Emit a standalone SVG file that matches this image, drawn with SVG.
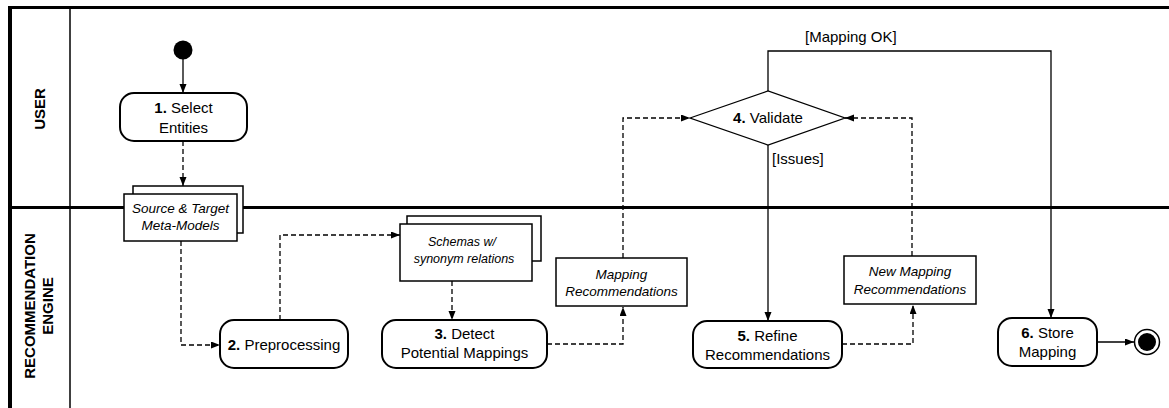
<svg xmlns="http://www.w3.org/2000/svg" width="1169" height="408" viewBox="0 0 1169 408">
  <style>
    .frame { fill: none; stroke: #000; }
    .action { fill: #fff; stroke: #000; stroke-width: 2; }
    .doc { fill: #fff; stroke: #000; stroke-width: 1.5; }
    .flow { fill: none; stroke: #000; stroke-width: 1.3; }
    .obj { fill: none; stroke: #000; stroke-width: 1.3; stroke-dasharray: 5 3; }
    .t { font-family: "Liberation Sans", Arial, sans-serif; font-size: 15px; fill: #000; text-anchor: middle; }
    .ti { font-family: "Liberation Sans", Arial, sans-serif; font-size: 13.5px; font-style: italic; fill: #000; text-anchor: middle; }
    .lane { font-family: "Liberation Sans", Arial, sans-serif; font-size: 15px; font-weight: bold; fill: #000; text-anchor: middle; }
    .lbl { font-family: "Liberation Sans", Arial, sans-serif; font-size: 15px; fill: #000; }
    b, .b { font-weight: bold; }
  </style>
  <defs>
    <marker id="arrow" markerUnits="userSpaceOnUse" markerWidth="10" markerHeight="8" refX="9" refY="3.5" orient="auto">
      <path d="M0,0 L9,3.5 L0,7 z" fill="#000"/>
    </marker>
  </defs>

  <rect width="1169" height="408" fill="#fff"/>

  <!-- swimlane frame -->
  <g id="lanes">
    <line class="frame" x1="8.5" y1="7.5" x2="1169" y2="7.5" stroke-width="3"/>
    <line class="frame" x1="10" y1="6" x2="10" y2="408" stroke-width="4"/>
    <line class="frame" x1="70" y1="7" x2="70" y2="408" stroke-width="1.5"/>
    <line class="frame" x1="8" y1="207.5" x2="1169" y2="207.5" stroke-width="3"/>
    <text class="lane" transform="translate(45,109) rotate(-90)">USER</text>
    <text class="lane" transform="translate(35,306) rotate(-90)">RECOMMENDATION</text>
    <text class="lane" transform="translate(53,306) rotate(-90)">ENGINE</text>
  </g>

  <!-- connectors -->
  <g id="connectors">
    <line class="flow" x1="183" y1="59" x2="183" y2="93" marker-end="url(#arrow)"/>
    <line class="obj" x1="183" y1="141" x2="183" y2="186" marker-end="url(#arrow)"/>
    <polyline class="obj" points="181,241 181,345 220,345" marker-end="url(#arrow)"/>
    <polyline class="obj" points="280,320 280,235 400,235" marker-end="url(#arrow)"/>
    <line class="obj" x1="452" y1="281" x2="452" y2="320" marker-end="url(#arrow)"/>
    <polyline class="obj" points="547,344 623,344 623,307" marker-end="url(#arrow)"/>
    <polyline class="obj" points="623,258 623,118 690,118" marker-end="url(#arrow)"/>
    <polyline class="flow" points="768,91 768,51 1051,51 1051,318" marker-end="url(#arrow)"/>
    <line class="flow" x1="768" y1="145" x2="768" y2="321" marker-end="url(#arrow)"/>
    <polyline class="obj" points="842,344 913,344 913,305" marker-end="url(#arrow)"/>
    <polyline class="obj" points="912,256 912,118 845,118" marker-end="url(#arrow)"/>
    <line class="flow" x1="1097" y1="342" x2="1134" y2="342" marker-end="url(#arrow)"/>
    <text class="lbl" x="805" y="42">[Mapping OK]</text>
    <text class="lbl" x="772" y="164">[Issues]</text>
  </g>

  <!-- initial node -->
  <g id="start">
    <circle cx="183" cy="50" r="9.5" fill="#000"/>
  </g>

  <g id="select-entities">
    <rect class="action" x="120" y="93" width="127" height="48" rx="14"/>
    <text class="t" x="183.5" y="113"><tspan class="b">1.</tspan> Select</text>
    <text class="t" x="183.5" y="133">Entities</text>
  </g>

  <g id="meta-models">
    <rect class="doc" x="133" y="186" width="110" height="47"/>
    <rect class="doc" x="124" y="194" width="113" height="47"/>
    <text class="ti" x="180.5" y="213">Source &amp; Target</text>
    <text class="ti" x="180.5" y="230">Meta-Models</text>
  </g>

  <g id="preprocessing">
    <rect class="action" x="220" y="320" width="128" height="48" rx="14"/>
    <text class="t" x="284" y="350"><tspan class="b">2.</tspan> Preprocessing</text>
  </g>

  <g id="schemas">
    <rect class="doc" x="407" y="216" width="134" height="45"/>
    <rect class="doc" x="400" y="224" width="132" height="57"/>
    <text class="ti" x="462" y="246" style="font-size:12.5px">Schemas w/</text>
    <text class="ti" x="464" y="263" style="font-size:12.5px">synonym relations</text>
  </g>

  <g id="detect-mappings">
    <rect class="action" x="382" y="320" width="165" height="48" rx="14"/>
    <text class="t" x="464.5" y="339"><tspan class="b">3.</tspan> Detect</text>
    <text class="t" x="464.5" y="358">Potential Mappings</text>
  </g>

  <g id="mapping-recommendations">
    <rect class="doc" x="556" y="258" width="131" height="48"/>
    <text class="ti" x="621.5" y="279">Mapping</text>
    <text class="ti" x="621.5" y="296">Recommendations</text>
  </g>

  <g id="validate">
    <polygon points="690,118 768,91 845,118 768,145" fill="#fff" stroke="#000" stroke-width="1.3"/>
    <text class="t" x="768" y="123"><tspan class="b">4.</tspan> Validate</text>
  </g>

  <g id="refine">
    <rect class="action" x="693" y="321" width="149" height="47" rx="14"/>
    <text class="t" x="767.5" y="341"><tspan class="b">5.</tspan> Refine</text>
    <text class="t" x="767.5" y="360">Recommendations</text>
  </g>

  <g id="new-mapping-recommendations">
    <rect class="doc" x="844" y="256" width="132" height="48"/>
    <text class="ti" x="910" y="276">New Mapping</text>
    <text class="ti" x="910" y="294">Recommendations</text>
  </g>

  <g id="store-mapping">
    <rect class="action" x="998" y="318" width="99" height="48" rx="14"/>
    <text class="t" x="1047.5" y="338"><tspan class="b">6.</tspan> Store</text>
    <text class="t" x="1047.5" y="357">Mapping</text>
  </g>

  <!-- final node -->
  <g id="end">
    <circle cx="1147" cy="342" r="12.5" fill="#fff" stroke="#000" stroke-width="1.5"/>
    <circle cx="1147" cy="342" r="9" fill="#000"/>
  </g>
</svg>
